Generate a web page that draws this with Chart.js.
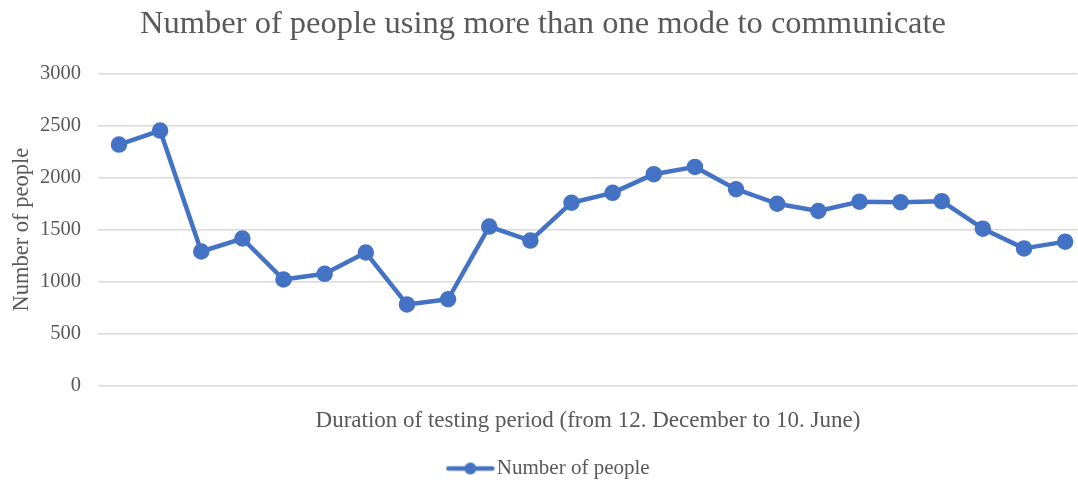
<!DOCTYPE html>
<html>
<head>
<meta charset="utf-8">
<script src="https://cdn.jsdelivr.net/npm/chart.js@4.4.1/dist/chart.umd.min.js"></script>
<style>
html,body{margin:0;padding:0;background:#fff;overflow:hidden;width:1078px;height:489px;}
#wrap{position:relative;width:1088px;height:489px;}
canvas{display:block;}
</style>
</head>
<body>
<div id="wrap"><canvas id="c" width="1088" height="489"></canvas></div>
<script>
const categories = [1, 2, 3, 4, 5, 6, 7, 8, 9, 10, 11, 12, 13, 14, 15, 16, 17, 18, 19, 20, 21, 22, 23, 24];
const peopleValues = [2320, 2455, 1290, 1415, 1020, 1075, 1280, 780, 830, 1530, 1395, 1760, 1855, 2035, 2105, 1890, 1750, 1680, 1770, 1765, 1775, 1510, 1320, 1385];
const yTicks = [0, 500, 1000, 1500, 2000, 2500, 3000];
const seriesName = "Number of people";
const chartTitle = "Number of people using more than one mode to communicate";
const xTitle = "Duration of testing period (from 12. December to 10. June)";
const yTitle = "Number of people";

const BLUE = '#4472C4';
const GREY = '#595959';
const FONT = "'Liberation Serif', 'Times New Roman', serif";

// legend marker: line with a dot
const marker = document.createElement('canvas');
marker.width = 70; marker.height = 14;
(function(){
  const g = marker.getContext('2d');
  g.strokeStyle = BLUE; g.lineWidth = 4.5; g.lineCap = 'round';
  g.beginPath(); g.moveTo(22,7); g.lineTo(66,7); g.stroke();
  g.fillStyle = BLUE; g.beginPath(); g.arc(44,7,6,0,Math.PI*2); g.fill();
})();

new Chart(document.getElementById('c'), {
  type: 'line',
  data: {
    datasets: [{
      label: seriesName,
      data: categories.map((c, i) => ({ x: c, y: peopleValues[i] })),
      borderColor: BLUE,
      backgroundColor: BLUE,
      borderWidth: 4.5,
      pointRadius: 6,
      pointHoverRadius: 6,
      pointBackgroundColor: BLUE,
      pointBorderColor: BLUE,
      borderJoinStyle: 'round',
      tension: 0
    }]
  },
  options: {
    responsive: false,
    animation: false,
    layout: { padding: { left: 0, right: 2, top: 0, bottom: 0 } },
    plugins: {
      tooltip: { enabled: false },
      title: {
        display: true,
        text: chartTitle,
        color: GREY,
        font: { family: FONT, size: 32.5, weight: 'normal' },
        padding: { top: 5, bottom: 30 }
      },
      legend: {
        position: 'bottom',
        labels: {
          usePointStyle: true,
          pointStyleWidth: 50,
          color: GREY,
          font: { family: FONT, size: 21 },
          padding: 0,
          generateLabels: (chart) => [{
            text: seriesName,
            pointStyle: marker,
            fillStyle: BLUE,
            strokeStyle: BLUE,
            lineWidth: 0,
            fontColor: GREY,
            datasetIndex: 0,
            hidden: false
          }]
        }
      }
    },
    scales: {
      x: {
        type: 'linear',
        min: 0.5,
        max: 24.3,
        grid: { display: false, drawTicks: false },
        border: { display: false },
        ticks: { display: false },
        title: {
          display: true,
          text: xTitle,
          color: GREY,
          font: { family: FONT, size: 23 },
          padding: { top: 22, bottom: 23 }
        }
      },
      y: {
        min: 0,
        max: 3000,
        afterBuildTicks: (s) => { s.ticks = yTicks.map(v => ({ value: v })); },
        afterFit: (s) => { s.width = 98.4; },
        grid: { color: '#d9d9d9', lineWidth: 1.5, drawTicks: false },
        border: { display: false },
        ticks: {
          color: GREY,
          font: { family: FONT, size: 20.5 },
          padding: 17.4,
          callback: (v) => String(v)
        },
        title: {
          display: true,
          text: yTitle,
          color: GREY,
          font: { family: FONT, size: 22.5 },
          padding: { top: 8.5, bottom: 3.5 }
        }
      }
    }
  }
});
</script>
</body>
</html>
